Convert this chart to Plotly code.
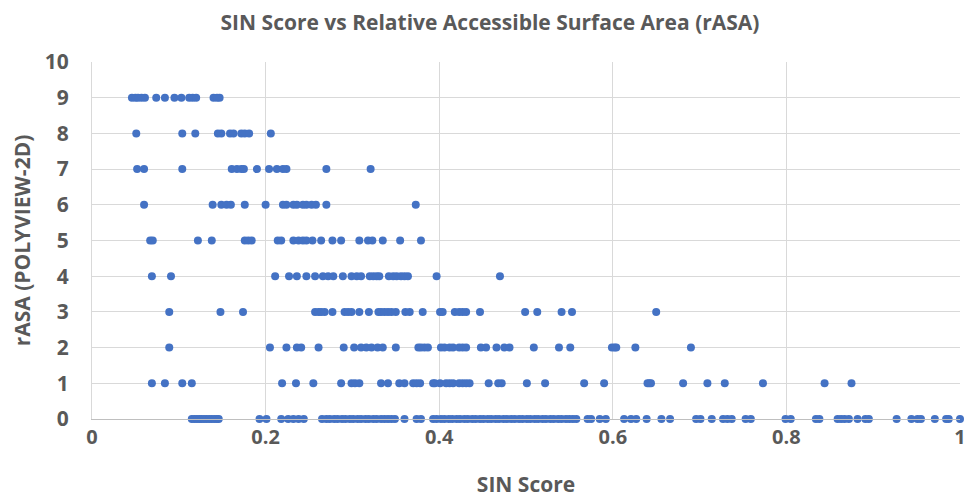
import plotly.graph_objects as go

# SIN score values (x) per rASA level (y)
rasa9 = [0.046, 0.050, 0.053, 0.057, 0.061, 0.074, 0.084, 0.095, 0.103, 0.112, 0.116, 0.120, 0.140, 0.144, 0.147]
rasa8 = [0.051, 0.104, 0.119, 0.145, 0.149, 0.159, 0.163, 0.172, 0.176, 0.181, 0.206]
rasa7 = [0.052, 0.060, 0.104, 0.161, 0.167, 0.172, 0.175, 0.190, 0.204, 0.213, 0.220, 0.224, 0.270, 0.321]
rasa6 = [0.060, 0.139, 0.149, 0.155, 0.160, 0.176, 0.200, 0.220, 0.224, 0.232, 0.236, 0.243, 0.247,
         0.253, 0.258, 0.270, 0.373]
rasa5 = [0.067, 0.070, 0.122, 0.138, 0.176, 0.180, 0.184, 0.214, 0.218, 0.232, 0.238, 0.243, 0.247,
         0.254, 0.264, 0.277, 0.287, 0.308, 0.318, 0.323, 0.335, 0.355, 0.379]
rasa4 = [0.069, 0.091, 0.211, 0.227, 0.236, 0.247, 0.257, 0.266, 0.272, 0.278, 0.289, 0.299, 0.305,
         0.310, 0.320, 0.324, 0.328, 0.331, 0.342, 0.347, 0.351, 0.356, 0.360, 0.364, 0.397, 0.470]
rasa3 = [0.089, 0.148, 0.174, 0.257, 0.261, 0.264, 0.268, 0.277, 0.291, 0.295, 0.299, 0.308, 0.319,
         0.330, 0.333, 0.337, 0.341, 0.345, 0.350, 0.361, 0.366, 0.381, 0.401, 0.404, 0.418, 0.423,
         0.427, 0.431, 0.447, 0.499, 0.513, 0.541, 0.553, 0.650]
rasa2 = [0.089, 0.205, 0.224, 0.236, 0.241, 0.261, 0.290, 0.302, 0.310, 0.316, 0.322, 0.329, 0.335,
         0.350, 0.376, 0.379, 0.383, 0.387, 0.402, 0.406, 0.412, 0.416, 0.423, 0.427, 0.431, 0.448,
         0.454, 0.466, 0.475, 0.481, 0.509, 0.538, 0.551, 0.599, 0.602, 0.604, 0.626, 0.690]
rasa1 = [0.069, 0.084, 0.104, 0.115, 0.219, 0.235, 0.255, 0.287, 0.299, 0.303, 0.308, 0.333, 0.341,
         0.354, 0.360, 0.370, 0.374, 0.378, 0.393, 0.395, 0.401, 0.408, 0.412, 0.416, 0.423, 0.427,
         0.431, 0.435, 0.457, 0.468, 0.472, 0.501, 0.522, 0.567, 0.590, 0.640, 0.642, 0.644, 0.681,
         0.709, 0.729, 0.773, 0.844, 0.875]
rasa0 = [0.115, 0.118, 0.121, 0.124, 0.126, 0.129, 0.132, 0.135, 0.138, 0.141, 0.144, 0.146,
         0.193, 0.201, 0.218, 0.226, 0.232, 0.238, 0.244,
         0.265, 0.270, 0.274, 0.279, 0.283, 0.288, 0.292, 0.297, 0.301, 0.306, 0.310, 0.315, 0.319,
         0.324, 0.328, 0.333, 0.337, 0.341, 0.345, 0.349, 0.360, 0.374, 0.379,
         0.393, 0.397, 0.402, 0.406, 0.411, 0.415, 0.420, 0.424, 0.429, 0.433, 0.438, 0.442, 0.447,
         0.451, 0.456, 0.460, 0.465, 0.469, 0.474, 0.478, 0.483, 0.487, 0.492, 0.496, 0.501, 0.505,
         0.510, 0.514, 0.519, 0.523, 0.528, 0.532, 0.537, 0.541, 0.546, 0.550, 0.554, 0.558,
         0.571, 0.575, 0.585, 0.592, 0.613, 0.621, 0.627, 0.639, 0.656, 0.666,
         0.696, 0.701, 0.714, 0.727, 0.732, 0.737, 0.753, 0.759, 0.799, 0.805, 0.834, 0.838,
         0.859, 0.863, 0.867, 0.872, 0.882, 0.891, 0.895, 0.927, 0.944, 0.951, 0.955, 0.971,
         0.984, 0.987, 1.000]

levels = [(9, rasa9), (8, rasa8), (7, rasa7), (6, rasa6), (5, rasa5),
          (4, rasa4), (3, rasa3), (2, rasa2), (1, rasa1), (0, rasa0)]
xs, ys = [], []
for lv, vals in levels:
    xs += vals
    ys += [lv] * len(vals)

x_ticks = [0, 0.2, 0.4, 0.6, 0.8, 1]
x_tick_labels = ["0", "0.2", "0.4", "0.6", "0.8", "1"]
y_ticks = list(range(0, 11))

FONT = "'Open Sans', sans-serif"
GREY = "#595959"

fig = go.Figure(go.Scatter(
    x=xs, y=ys, mode="markers",
    marker=dict(color="#4472C4", size=8, line=dict(width=0)),
    cliponaxis=False, showlegend=False,
))

fig.update_layout(
    width=964, height=491,
    margin=dict(l=84, r=6, t=54, b=79),
    paper_bgcolor="white", plot_bgcolor="white",
    font=dict(family=FONT, color=GREY),
    title=dict(text="<b>SIN Score vs Relative Accessible Surface Area (rASA)</b>",
               x=0.5, xanchor="center", y=1 - 15 / 491, yanchor="middle",
               font=dict(size=21, color=GREY, family=FONT)),
)
fig.update_xaxes(
    range=[0, 1], tickvals=x_ticks, ticktext=[f"<b>{t}</b>" for t in x_tick_labels],
    tickfont=dict(size=20, color=GREY), showgrid=True, gridcolor="#D9D9D9", gridwidth=1,
    zeroline=False, showline=True, linecolor="#BFBFBF", linewidth=1, ticks="",
    title=dict(text="<b>SIN Score</b>", font=dict(size=21, color=GREY), standoff=28),
)
fig.update_yaxes(
    range=[0, 10], tickvals=y_ticks, ticktext=[f"<b>{t}</b>" for t in y_ticks],
    tickfont=dict(size=21, color=GREY), showgrid=True, gridcolor="#D9D9D9", gridwidth=1,
    zeroline=False, showline=True, linecolor="#D9D9D9", linewidth=1, ticks="",
    ticklabelstandoff=18,
    title=dict(text="<b>rASA (POLYVIEW-2D)</b>", font=dict(size=21, color=GREY), standoff=10),
)

fig.write_html("out.html")
